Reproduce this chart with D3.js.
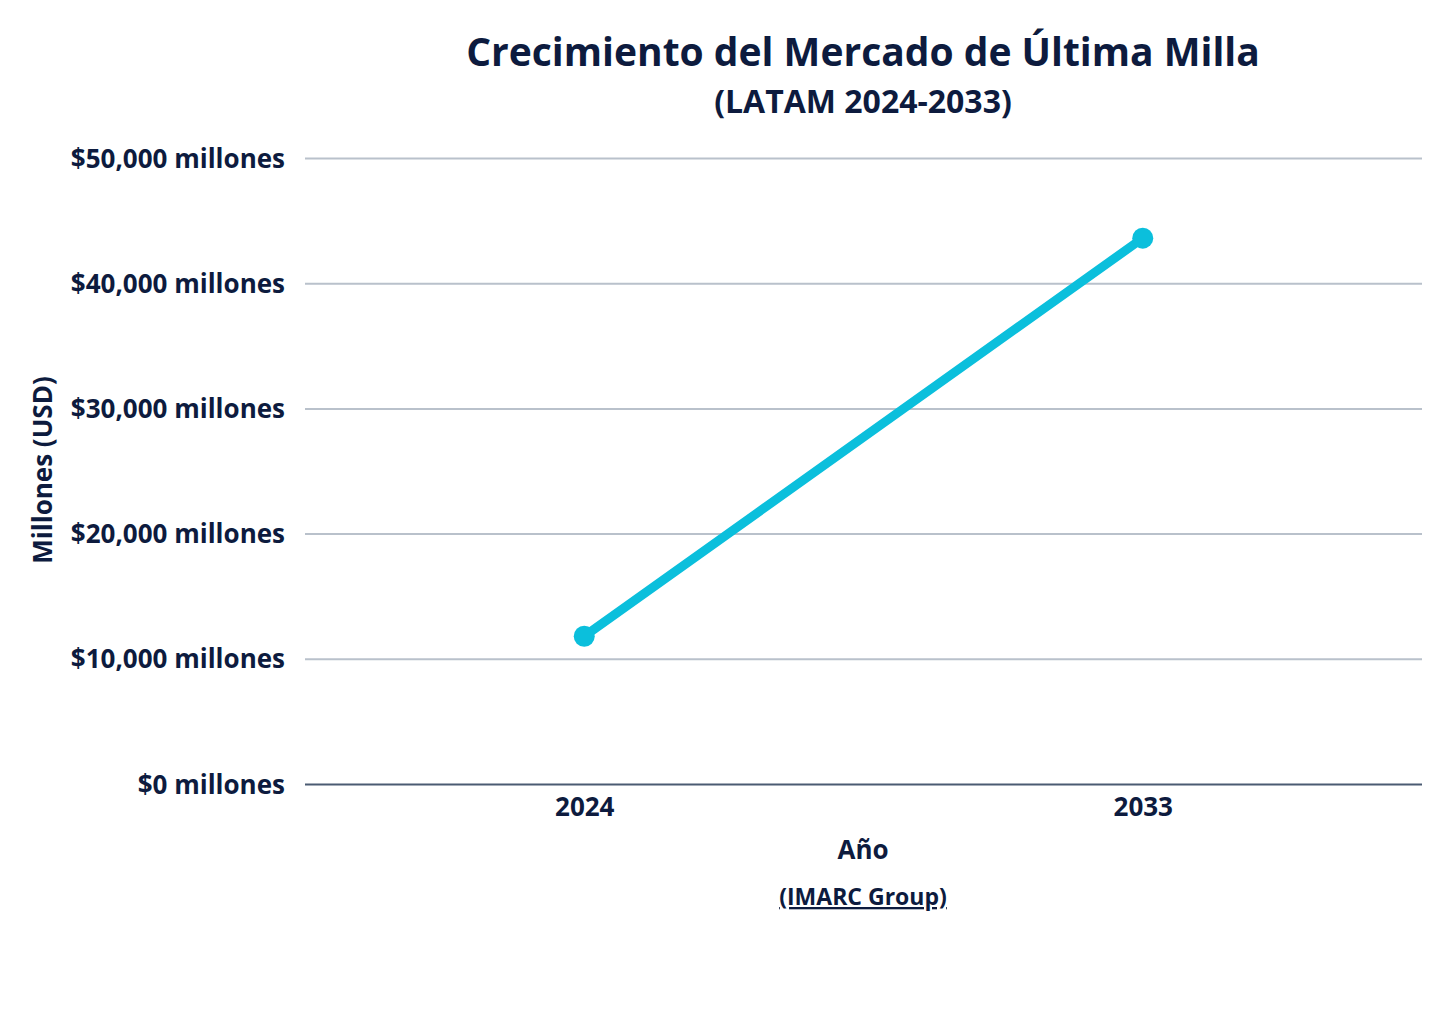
<!DOCTYPE html>
<html><head><meta charset="utf-8">
<script src="https://cdn.jsdelivr.net/npm/d3@7"></script>
<style>
body{margin:0;background:#fff;}
text{font-family:"Open Sans",sans-serif;font-weight:700;fill:#0d1b3e;}
</style></head>
<body><svg id="c" width="1456" height="1033"></svg>
<script>
const years = ["2024","2033"];
const values = [11800, 43600];
const yTicks = [0,10000,20000,30000,40000,50000];
const title = "Crecimiento del Mercado de Última Milla";
const subtitle = "(LATAM 2024-2033)";
const xLabel = "Año";
const yLabel = "Millones (USD)";
const source = "(IMARC Group)";

const svg = d3.select("#c");
const m = {l:305, r:1422, t:158, b:784};
const x = d3.scalePoint().domain(years).range([m.l, m.r]).padding(0.5);
const y = d3.scaleLinear().domain([0,50000]).range([m.b, m.t]);
const fmt = d3.format(",");

svg.append("text").attr("x",863).attr("y",66).attr("text-anchor","middle").style("font-size","39px").text(title);
svg.append("text").attr("x",863).attr("y",113).attr("text-anchor","middle").style("font-size","32px").text(subtitle);

const yAxis = svg.append("g").attr("transform",`translate(${m.l},0)`)
  .call(d3.axisLeft(y).tickValues(yTicks).tickSize(-(m.r-m.l)).tickPadding(20).tickFormat(d=>"$"+fmt(d)+" millones"));
yAxis.select(".domain").remove();
yAxis.selectAll(".tick line").attr("stroke",d=>d===0?"#4b5b72":"#b9c1cb").attr("stroke-width",2);
yAxis.selectAll(".tick text").style("font-size","26px").attr("fill","#0d1b3e").attr("dy","0.35em");

const xAxis = svg.append("g").attr("transform",`translate(0,${m.b})`)
  .call(d3.axisBottom(x).tickSize(0).tickPadding(14));
xAxis.select(".domain").remove();
xAxis.selectAll(".tick text").style("font-size","26px").attr("fill","#0d1b3e");

const line = d3.line().x((d,i)=>x(years[i])).y(d=>y(d));
svg.append("path").datum(values).attr("d",line).attr("fill","none").attr("stroke","#0bbfdc").attr("stroke-width",9).attr("stroke-linecap","round");
svg.selectAll("circle.pt").data(values).join("circle").attr("class","pt")
  .attr("cx",(d,i)=>x(years[i])).attr("cy",d=>y(d)).attr("r",10.5).attr("fill","#0bbfdc");

svg.append("text").attr("x",863).attr("y",859).attr("text-anchor","middle").style("font-size","26px").text(xLabel);
svg.append("text").attr("x",863).attr("y",905).attr("text-anchor","middle").style("font-size","23px").style("text-decoration","underline").text(source);
svg.append("text").attr("transform","translate(52,470) rotate(-90)").attr("text-anchor","middle").style("font-size","26px").text(yLabel);
</script></body></html>
